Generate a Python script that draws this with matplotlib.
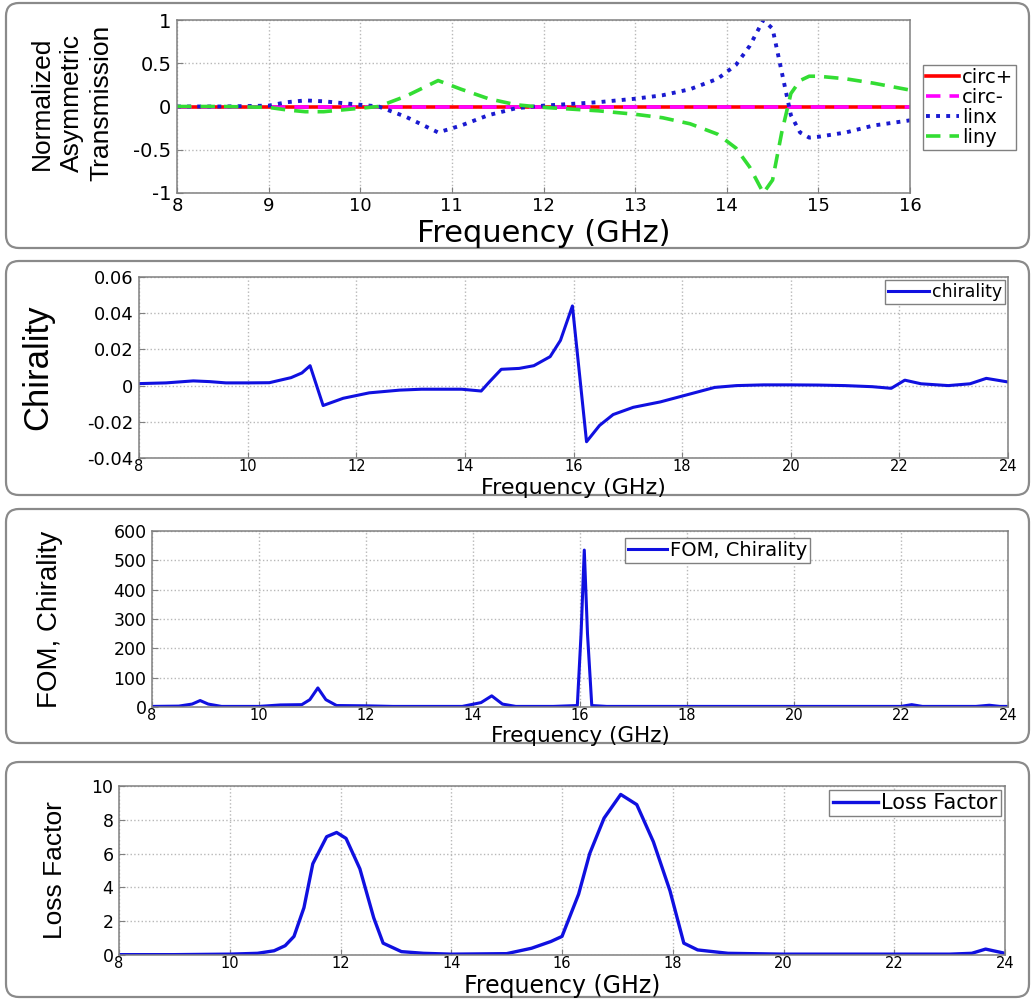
import numpy as np
import matplotlib
matplotlib.use('Agg')
import matplotlib.pyplot as plt
from matplotlib import font_manager
from matplotlib.patches import FancyBboxPatch

# ---------------- data ----------------

# panel 1: normalized asymmetric transmission, 8-16 GHz
f_circ = [8.0, 9.0, 10.0, 11.0, 12.0, 13.0, 14.0, 15.0, 16.0]
circ_p = [0, 0, 0, 0, 0, 0, 0, 0, 0]
circ_m = [0, 0, 0, 0, 0, 0, 0, 0, 0]

f_lin = [8.0, 8.5, 9.0, 9.2, 9.4, 9.6, 9.8, 10.0, 10.2, 10.5, 10.85, 11.1, 11.4,
         11.7, 12.0, 12.3, 12.6, 13.0, 13.3, 13.6, 13.9, 14.1, 14.25, 14.4, 14.5,
         14.6, 14.7, 14.8, 14.9, 15.0, 15.3, 15.6, 16.0]
linx = [0.0, 0.0, 0.01, 0.05, 0.07, 0.06, 0.04, 0.02, 0.0, -0.12, -0.3, -0.22, -0.1,
        -0.02, 0.01, 0.03, 0.05, 0.09, 0.13, 0.2, 0.32, 0.48, 0.7, 1.0, 0.9,
        0.4, -0.1, -0.3, -0.36, -0.35, -0.3, -0.22, -0.16]
liny = [0.0, 0.0, -0.01, -0.04, -0.06, -0.06, -0.04, -0.02, 0.0, 0.12, 0.3, 0.2, 0.09,
        0.02, -0.01, -0.03, -0.05, -0.09, -0.13, -0.2, -0.32, -0.48, -0.7, -1.0, -0.85,
        -0.3, 0.15, 0.3, 0.35, 0.35, 0.32, 0.27, 0.19]

# panel 2: chirality, 8-24 GHz
f_chir = [8.0, 8.5, 9.0, 9.3, 9.6, 10.0, 10.4, 10.8, 11.0, 11.15, 11.39, 11.76, 12.24,
          12.8, 13.2, 13.94, 14.3, 14.45, 14.67, 15.0, 15.27, 15.57, 15.76, 15.98,
          16.24, 16.48, 16.73, 17.1, 17.6, 18.1, 18.6, 19.0, 19.5, 20.0, 20.5, 21.0,
          21.5, 21.85, 22.1, 22.4, 22.9, 23.3, 23.6, 24.0]
chirality = [0.0011, 0.0015, 0.0026, 0.0022, 0.0015, 0.0015, 0.0016, 0.0044, 0.007, 0.011,
             -0.011, -0.007, -0.004, -0.0025, -0.002, -0.002, -0.003, 0.002, 0.009, 0.0095,
             0.011, 0.016, 0.025, 0.044,
             -0.031, -0.022, -0.016, -0.012, -0.009, -0.005, -0.001, 0.0, 0.0004, 0.0004, 0.0003,
             0.0, -0.0006, -0.0015, 0.003, 0.001, 0.0, 0.001, 0.004, 0.002]

# panel 3: figure of merit, 8-24 GHz
f_fom = [8.0, 8.5, 8.75, 8.9, 9.05, 9.3, 10.0, 10.4, 10.8, 10.95, 11.1, 11.25, 11.45,
         12.0, 12.5, 13.0, 13.8, 14.15, 14.35, 14.55, 14.8, 15.5, 15.95, 16.02, 16.08,
         16.14, 16.22, 16.5, 17.5, 20.0, 22.0, 22.2, 22.4, 23.4, 23.65, 23.85, 24.0]
fom = [2, 3, 10, 22, 10, 2, 2, 7, 8, 25, 65, 25, 5,
       4, 2, 2, 2, 15, 38, 10, 2, 2, 5, 250, 535,
       250, 5, 2, 2, 2, 2, 8, 2, 2, 6, 2, 2]

# panel 4: loss factor, 8-24 GHz
f_loss = [8.0, 9.0, 10.0, 10.5, 10.8, 11.0, 11.16, 11.34, 11.5, 11.75, 11.93, 12.1, 12.35,
          12.6, 12.77, 13.1, 13.5, 14.0, 15.0, 15.45, 15.8, 16.0, 16.3, 16.5, 16.76,
          17.06, 17.35, 17.65, 17.95, 18.2, 18.45, 19.0, 20.0, 21.0, 22.0, 23.0, 23.4,
          23.65, 24.0]
loss = [0.02, 0.02, 0.05, 0.1, 0.25, 0.55, 1.1, 2.8, 5.4, 7.0, 7.25, 6.9, 5.1,
        2.2, 0.7, 0.2, 0.1, 0.05, 0.08, 0.4, 0.8, 1.1, 3.6, 6.0, 8.1,
        9.5, 8.9, 6.7, 3.8, 0.7, 0.3, 0.1, 0.05, 0.05, 0.05, 0.05, 0.1,
        0.35, 0.1]

# ticks
x1_ticks = [8, 9, 10, 11, 12, 13, 14, 15, 16]
y1_ticks = [-1, -0.5, 0, 0.5, 1]
y1_labels = ['-1', '-0.5', '0', '0.5', '1']
x_ticks = [8, 10, 12, 14, 16, 18, 20, 22, 24]
y2_ticks = [-0.04, -0.02, 0, 0.02, 0.04, 0.06]
y2_labels = ['-0.04', '-0.02', '0', '0.02', '0.04', '0.06']
y3_ticks = [0, 100, 200, 300, 400, 500, 600]
y4_ticks = [0, 2, 4, 6, 8, 10]

# ---------------- fonts ----------------
names = {f.name for f in font_manager.fontManager.ttflist}
narrow = 'Liberation Sans Narrow' if 'Liberation Sans Narrow' in names else 'Liberation Sans'
plt.rcParams['font.family'] = 'DejaVu Sans'

W, H = 1032, 999
fig = plt.figure(figsize=(W / 100, H / 100), dpi=100)


def px_axes(left, top, right, bottom):
    # axes from pixel box (origin top-left)
    return fig.add_axes([left / W, (H - bottom) / H, (right - left) / W, (bottom - top) / H])


def frame_box(top, bottom):
    box = FancyBboxPatch((6 / 100, (H - bottom) / 100), (1029 - 6) / 100, (bottom - top) / 100,
                         boxstyle='round,pad=0,rounding_size=0.13',
                         transform=fig.dpi_scale_trans, facecolor='white',
                         edgecolor='#8a8a8a', linewidth=1.6, zorder=-10)
    fig.patches.append(box)


def style(ax, xsize, ysize, xpad=1):
    ax.grid(True, color='#b8b8b8', linestyle=':', linewidth=1.0)
    for s in ax.spines.values():
        s.set_color('#808080')
        s.set_linewidth(1.1)
    ax.tick_params(direction='in', length=4, color='#808080')
    ax.tick_params(axis='x', labelsize=xsize, pad=xpad)
    ax.tick_params(axis='y', labelsize=ysize, pad=4)


def xlabel(ax, size, base_px, top_px, bottom_px):
    ax.set_xlabel('Frequency (GHz)', fontsize=size)
    ax.xaxis.label.set_va('baseline')
    ax.xaxis.set_label_coords(0.5, (bottom_px - base_px) / (bottom_px - top_px))


def legend(ax, size, **kw):
    leg = ax.legend(fontsize=size, fancybox=False, framealpha=1, edgecolor='#808080',
                    borderpad=0.15, handletextpad=0.15, **kw)
    leg.get_frame().set_linewidth(1.0)
    return leg


frame_box(3, 248)
frame_box(261, 495)
frame_box(509, 743)
frame_box(762, 997)

# ---------------- panel 1 ----------------
ax1 = px_axes(177, 20, 910, 193)
ax1.plot(f_circ, circ_p, color='red', lw=2.6, label='circ+')
ax1.plot(f_circ, circ_m, color='magenta', lw=2.6, ls=(0, (4, 2.5)), label='circ-')
ax1.plot(f_lin, linx, color='#1a1ad0', lw=2.8, ls=(0, (1, 1.6)), label='linx')
ax1.plot(f_lin, liny, color='#33dd33', lw=2.6, ls=(0, (4, 2.5)), label='liny')
ax1.set_xlim(8, 16)
ax1.set_ylim(-1, 1)
ax1.set_xticks(x1_ticks)
ax1.set_yticks(y1_ticks)
ax1.set_yticklabels(y1_labels)
style(ax1, 13, 14, xpad=3)
xlabel(ax1, 22, 242, 20, 193)
ax1.set_ylabel('Normalized\nAsymmetric\nTransmission', family=narrow, fontsize=19,
               linespacing=1.3)
ax1.yaxis.label.set_va('center')
ax1.yaxis.set_label_coords((72 - 177) / 733, 0.52)
legend(ax1, 14, loc='upper left', bbox_to_anchor=(1.018, 0.74), handlelength=1.7,
       labelspacing=0.05, borderaxespad=0)

# ---------------- panel 2 ----------------
ax2 = px_axes(139, 277, 1008, 458)
ax2.plot(f_chir, chirality, color='#1010e0', lw=2.2, label='chirality')
ax2.set_xlim(8, 24)
ax2.set_ylim(-0.04, 0.06)
ax2.set_xticks(x_ticks)
ax2.set_yticks(y2_ticks)
ax2.set_yticklabels(y2_labels)
style(ax2, 10.5, 13)
xlabel(ax2, 16, 494, 277, 458)
ax2.set_ylabel('Chirality', family=narrow, fontsize=25)
ax2.yaxis.label.set_va('center')
ax2.yaxis.set_label_coords((38 - 139) / 869, 0.5)
legend(ax2, 12.5, loc='upper right', handlelength=2.4, borderaxespad=0.2)

# ---------------- panel 3 ----------------
ax3 = px_axes(152, 531, 1008, 707)
ax3.plot(f_fom, fom, color='#1010e0', lw=2.2, label='FOM, Chirality')
ax3.set_xlim(8, 24)
ax3.set_ylim(0, 600)
ax3.set_xticks(x_ticks)
ax3.set_yticks(y3_ticks)
style(ax3, 10.5, 12.5)
xlabel(ax3, 15.5, 742, 531, 707)
ax3.set_ylabel('FOM, Chirality', family=narrow, fontsize=20)
ax3.yaxis.label.set_va('center')
ax3.yaxis.set_label_coords((50 - 152) / 856, 0.5)
legend(ax3, 14, loc='upper left', bbox_to_anchor=(0.553, 0.96), handlelength=2.0,
       borderaxespad=0)

# ---------------- panel 4 ----------------
ax4 = px_axes(119, 786, 1005, 955)
ax4.plot(f_loss, loss, color='#1010e0', lw=2.4, label='Loss Factor')
ax4.set_xlim(8, 24)
ax4.set_ylim(0, 10)
ax4.set_xticks(x_ticks)
ax4.set_yticks(y4_ticks)
style(ax4, 10.5, 12.5)
xlabel(ax4, 17, 993, 786, 955)
ax4.set_ylabel('Loss Factor', family=narrow, fontsize=19)
ax4.yaxis.label.set_va('center')
ax4.yaxis.set_label_coords((55 - 119) / 886, 0.5)
legend(ax4, 15, loc='upper right', handlelength=2.2, borderaxespad=0.2)

fig.savefig('out.png', dpi=100)
